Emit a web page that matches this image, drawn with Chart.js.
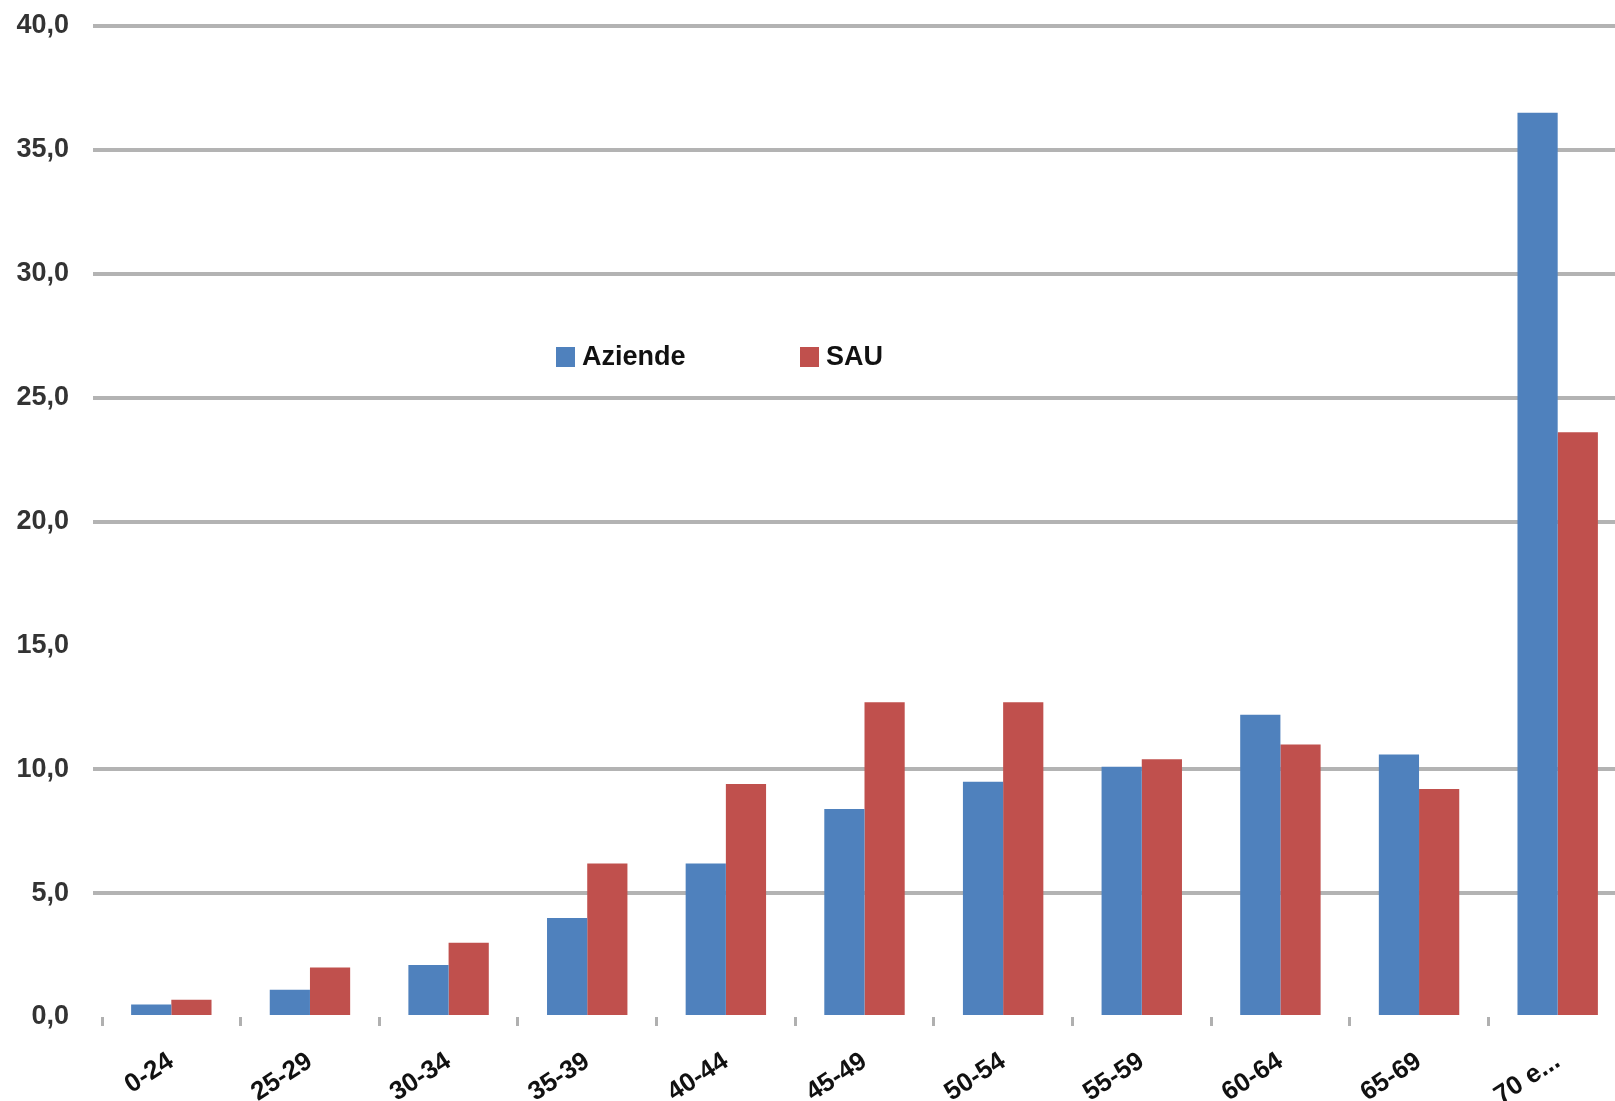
<!DOCTYPE html>
<html>
<head>
<meta charset="utf-8">
<script src="https://cdn.jsdelivr.net/npm/chart.js@4/dist/chart.umd.min.js"></script>
<style>
  html, body { margin: 0; padding: 0; background: #ffffff; overflow: hidden; }
  #wrap { width: 1640px; height: 1101px; }
</style>
</head>
<body>
<div id="wrap"><canvas id="c" width="1640" height="1101"></canvas></div>
<script>
// Age classes of farm holders
const categories = ['0-24', '25-29', '30-34', '35-39', '40-44', '45-49', '50-54', '55-59', '60-64', '65-69', '70 e...'];
// Share of farms (%) per age class
const aziende = [0.5, 1.1, 2.1, 4.0, 6.2, 8.4, 9.5, 10.1, 12.2, 10.6, 36.5];
// Share of utilised agricultural area (%) per age class
const sau = [0.7, 2.0, 3.0, 6.2, 9.4, 12.7, 12.7, 10.4, 11.0, 9.2, 23.6];
const seriesNames = ['Aziende', 'SAU'];
const yTicks = [0, 5, 10, 15, 20, 25, 30, 35, 40];
// Gridlines left out of the plot
const hiddenGrid = [0, 15];

const BLUE = '#4f81bd';
const RED = '#c0504d';
const GRID = '#b3b3b3';
const NONE = 'rgba(255,255,255,0)';
const FONT = '"Liberation Sans", Arial, sans-serif';

// Legend drawn inside the plot area
const innerLegend = {
  id: 'innerLegend',
  afterDraw(chart) {
    const ctx = chart.ctx;
    const items = chart.data.datasets.map(d => ({ label: d.label, color: d.backgroundColor }));
    const starts = [556, 800];
    const cy = 357;
    ctx.save();
    ctx.font = 'bold 27px ' + FONT;
    ctx.textBaseline = 'middle';
    ctx.textAlign = 'left';
    items.forEach((it, i) => {
      const x = starts[i];
      ctx.fillStyle = it.color;
      ctx.fillRect(x, cy - 10, 19, 20);
      ctx.fillStyle = '#111';
      ctx.fillText(it.label, x + 26, cy + 1);
    });
    ctx.restore();
  }
};

const gridColors = yTicks.map(v => hiddenGrid.includes(v) ? NONE : GRID);

new Chart(document.getElementById('c'), {
  type: 'bar',
  data: {
    labels: categories,
    datasets: [
      { label: seriesNames[0], data: aziende, backgroundColor: BLUE, borderWidth: 0 },
      { label: seriesNames[1], data: sau, backgroundColor: RED, borderWidth: 0 }
    ]
  },
  options: {
    responsive: false,
    animation: false,
    devicePixelRatio: 1,
    layout: { padding: { top: 26, right: 13, left: 0, bottom: 0 } },
    datasets: { bar: { categoryPercentage: 0.58, barPercentage: 1.0 } },
    plugins: {
      legend: { display: false },
      tooltip: { enabled: false }
    },
    scales: {
      x: {
        border: { display: false },
        grid: {
          offset: true,
          drawOnChartArea: false,
          drawTicks: true,
          tickLength: 9,
          color: '#b0b0b0',
          lineWidth: 3
        },
        ticks: {
          autoSkip: false,
          minRotation: 33,
          maxRotation: 33,
          padding: 20,
          color: '#111',
          font: { family: FONT, size: 26, weight: 'bold' }
        },
        afterFit(scale) { scale.height = 84; }
      },
      y: {
        min: 0,
        max: 40,
        border: { display: false },
        afterBuildTicks(scale) { scale.ticks = yTicks.map(v => ({ value: v })); },
        grid: {
          tickLength: 9,
          lineWidth: 4,
          color: gridColors,
          tickColor: gridColors
        },
        ticks: {
          padding: 24,
          color: '#333',
          font: { family: FONT, size: 27, weight: 'bold' },
          callback: v => v.toFixed(1).replace('.', ',')
        },
        afterFit(scale) {
          scale.width = 102;
          scale.paddingTop = 0;
          scale.paddingBottom = 0;
        }
      }
    }
  },
  plugins: [innerLegend]
});
</script>
</body>
</html>
